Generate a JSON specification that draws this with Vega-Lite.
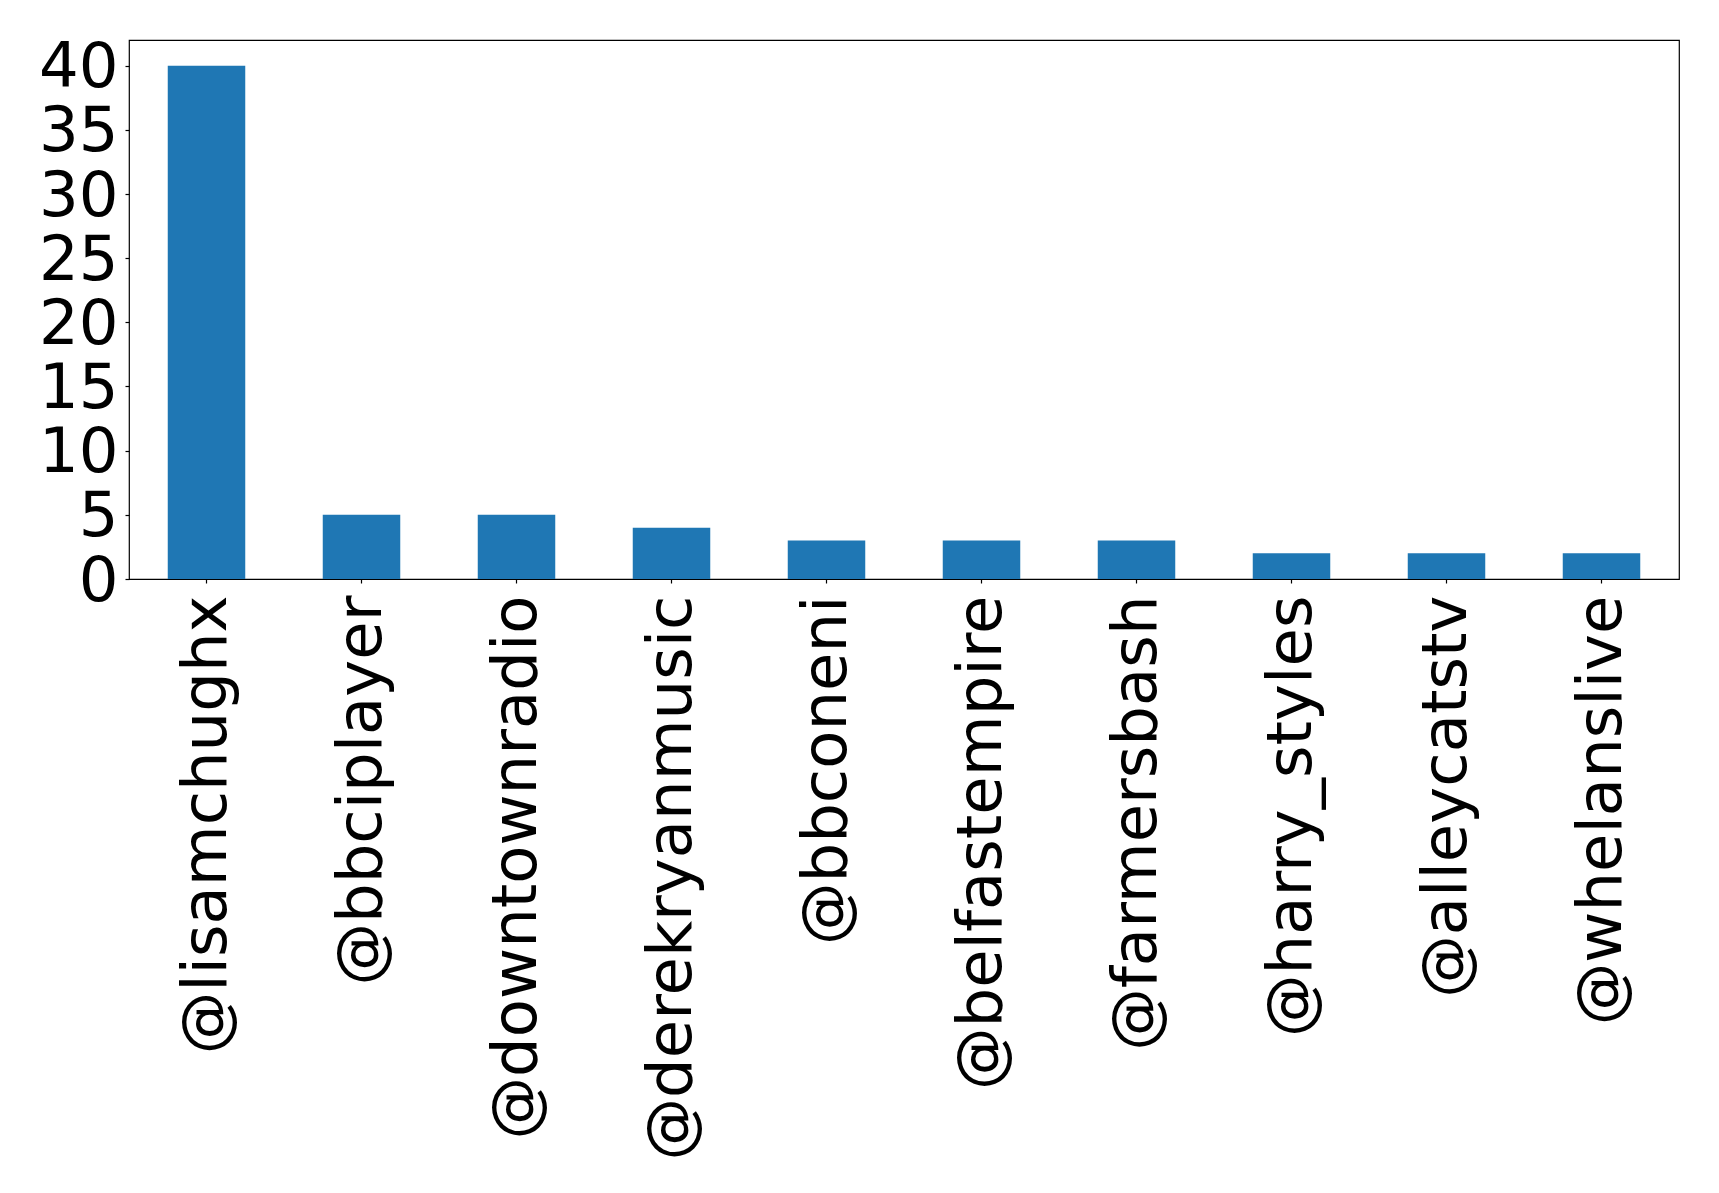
{
  "$schema": "https://vega.github.io/schema/vega-lite/v6.json",
  "width": 1550,
  "height": 539,
  "autosize": {"type": "none"},
  "padding": {"left": 129, "top": 40, "right": 40, "bottom": 614},
  "background": "white",
  "config": {
    "view": {"stroke": "black", "strokeWidth": 1.2},
    "axis": {
      "labelFont": "DejaVu Sans",
      "labelFontSize": 62.5,
      "labelColor": "black",
      "tickColor": "black",
      "tickSize": 4,
      "tickWidth": 1.2,
      "domain": false,
      "grid": false,
      "title": null
    }
  },
  "data": {
    "values": [
      {"handle": "@lisamchughx", "count": 40},
      {"handle": "@bbciplayer", "count": 5},
      {"handle": "@downtownradio", "count": 5},
      {"handle": "@derekryanmusic", "count": 4},
      {"handle": "@bbconeni", "count": 3},
      {"handle": "@belfastempire", "count": 3},
      {"handle": "@farmersbash", "count": 3},
      {"handle": "@harry_styles", "count": 2},
      {"handle": "@alleycatstv", "count": 2},
      {"handle": "@whelanslive", "count": 2}
    ]
  },
  "mark": {"type": "bar", "color": "#1f77b4"},
  "encoding": {
    "x": {
      "field": "handle",
      "type": "nominal",
      "sort": null,
      "scale": {"paddingInner": 0.5, "paddingOuter": 0.25},
      "axis": {"labelAngle": -90, "labelPadding": 12, "labelLimit": 0}
    },
    "y": {
      "field": "count",
      "type": "quantitative",
      "scale": {"domain": [0, 42], "nice": false, "zero": true},
      "axis": {"values": [0, 5, 10, 15, 20, 25, 30, 35, 40], "labelPadding": 7, "labelOffset": 2}
    }
  }
}
